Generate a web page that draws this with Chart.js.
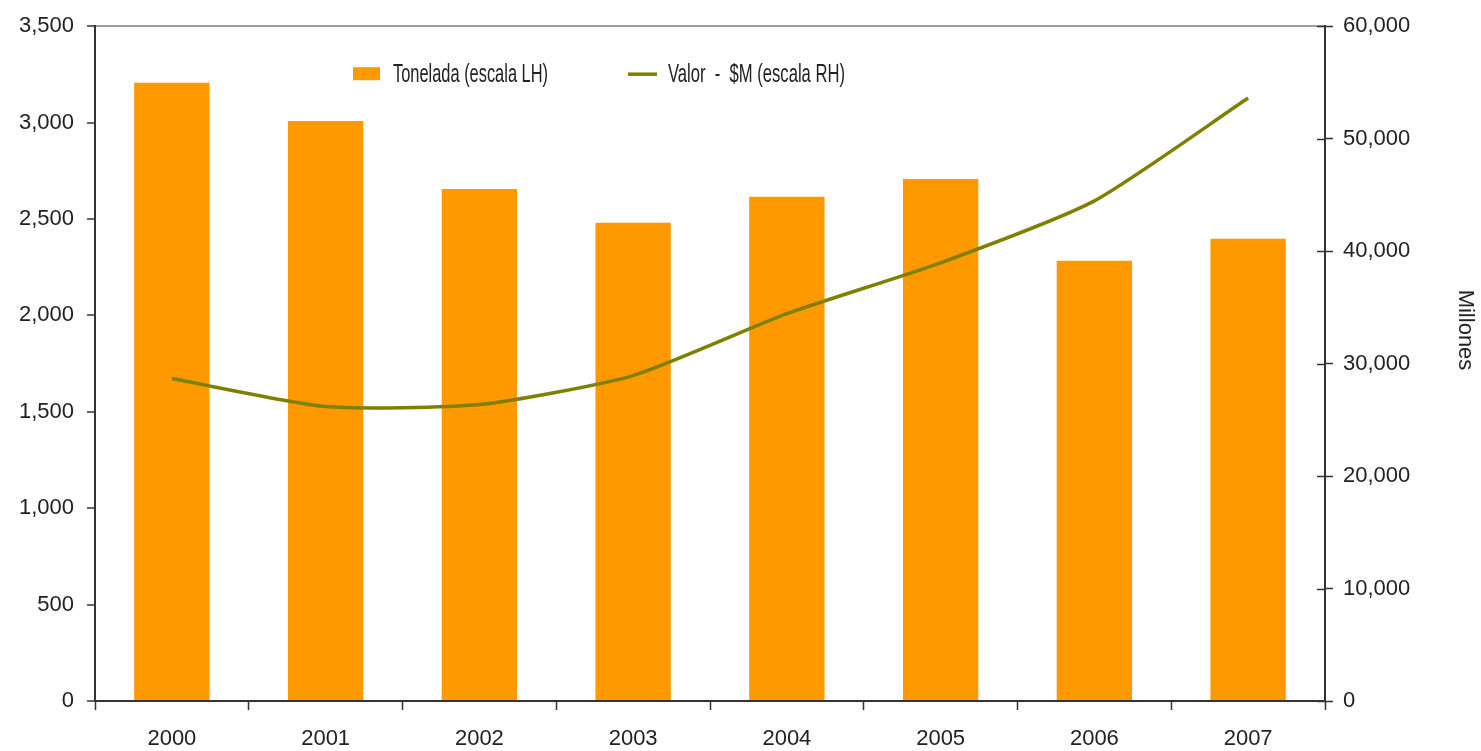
<!DOCTYPE html>
<html>
<head>
<meta charset="utf-8">
<script src="https://cdn.jsdelivr.net/npm/chart.js@4/dist/chart.umd.min.js"></script>
<style>
  html, body { margin: 0; padding: 0; background: #fff; }
  #wrap { width: 1481px; height: 751px; }
</style>
</head>
<body>
<div id="wrap"><canvas id="grafico" width="1481" height="751"></canvas></div>
<script>
// datos
const anios = ['2000', '2001', '2002', '2003', '2004', '2005', '2006', '2007'];
const toneladas = [3207, 3008, 2656, 2480, 2615, 2708, 2283, 2397];
const valorMillones = [28670, 26180, 26360, 28935, 34440, 38965, 44470, 53610];
const etiquetaBarras = 'Tonelada (escala LH)';
const etiquetaLinea = 'Valor  -  $M (escala RH)';
const tituloDerecho = 'Millones';

const naranja = '#FF9900';
const oliva = '#808000';
const texto = '#222222';
const fuente = '"Liberation Sans", Arial, sans-serif';

// leyenda dentro del area, texto angosto como en el original
const leyenda = {
  id: 'leyenda',
  afterDraw(chart) {
    const c = chart.ctx;
    const a = chart.chartArea;
    const y = a.top + 48;
    c.save();
    c.fillStyle = naranja;
    c.fillRect(a.left + 258, y - 7, 27, 13);
    c.strokeStyle = oliva;
    c.lineWidth = 3.5;
    c.beginPath();
    c.moveTo(a.left + 533, y);
    c.lineTo(a.left + 562, y);
    c.stroke();

    c.fillStyle = texto;
    c.font = '25px ' + fuente;
    c.textBaseline = 'middle';
    c.textAlign = 'left';
    const w1 = c.measureText(etiquetaBarras).width;
    c.save();
    c.translate(a.left + 298, y + 1);
    c.scale(155 / w1, 1);
    c.fillText(etiquetaBarras, 0, 0);
    c.restore();
    const w2 = c.measureText(etiquetaLinea).width;
    c.save();
    c.translate(a.left + 573, y + 1);
    c.scale(177 / w2, 1);
    c.fillText(etiquetaLinea, 0, 0);
    c.restore();

    // marcas del eje derecho hacia adentro
    const y1 = chart.scales.y1;
    c.strokeStyle = '#333';
    c.lineWidth = 1.5;
    y1.ticks.forEach(t => {
      const py = Math.round(y1.getPixelForValue(t.value)) + 0.5;
      c.beginPath();
      c.moveTo(a.right - 8, py);
      c.lineTo(a.right, py);
      c.stroke();
    });

    // titulo del eje derecho
    c.font = '22px ' + fuente;
    c.textAlign = 'center';
    c.translate(1465, 330);
    c.rotate(Math.PI / 2);
    c.fillText(tituloDerecho, 0, 0);
    c.restore();
  }
};

const ctx = document.getElementById('grafico');

new Chart(ctx, {
  data: {
    labels: anios,
    datasets: [
      {
        type: 'line',
        label: etiquetaLinea,
        data: valorMillones,
        yAxisID: 'y1',
        borderColor: oliva,
        borderWidth: 3.5,
        pointRadius: 0,
        tension: 0.2,
        order: 0
      },
      {
        type: 'bar',
        label: etiquetaBarras,
        data: toneladas,
        yAxisID: 'y',
        backgroundColor: naranja,
        borderWidth: 0,
        barPercentage: 1,
        categoryPercentage: 0.49,
        order: 1
      }
    ]
  },
  options: {
    responsive: false,
    animation: false,
    layout: { padding: { top: 25, left: 0, right: 0, bottom: 0 } },
    plugins: {
      legend: { display: false },
      tooltip: { enabled: false }
    },
    scales: {
      x: {
        offset: true,
        afterFit: s => { s.height = 50; },
        grid: {
          offset: true,
          drawOnChartArea: false,
          tickLength: 9,
          tickColor: '#333',
          tickWidth: 1.5
        },
        border: { color: '#333', width: 2 },
        ticks: {
          color: texto,
          font: { family: fuente, size: 22 },
          padding: 16,
          maxRotation: 0
        }
      },
      y: {
        position: 'left',
        min: 0,
        max: 3500,
        afterFit: s => { s.width = 95; },
        grid: {
          color: c => c.tick && c.tick.value === 3500 ? '#a0a0a0' : 'rgba(0,0,0,0)',
          lineWidth: 2,
          tickLength: 8,
          tickColor: '#333',
          tickWidth: 1.5
        },
        border: { color: '#333', width: 2 },
        ticks: {
          stepSize: 500,
          color: texto,
          font: { family: fuente, size: 22 },
          padding: 13,
          callback: v => v.toLocaleString('en-US')
        }
      },
      y1: {
        position: 'right',
        min: 0,
        max: 60000,
        afterFit: s => { s.width = 156; },
        grid: {
          drawOnChartArea: false,
          tickLength: 8,
          tickColor: '#333',
          tickWidth: 1.5
        },
        border: { color: '#333', width: 2 },
        ticks: {
          stepSize: 10000,
          color: texto,
          font: { family: fuente, size: 22 },
          padding: 10,
          callback: v => v.toLocaleString('en-US')
        }
      }
    }
  },
  plugins: [leyenda]
});
</script>
</body>
</html>
